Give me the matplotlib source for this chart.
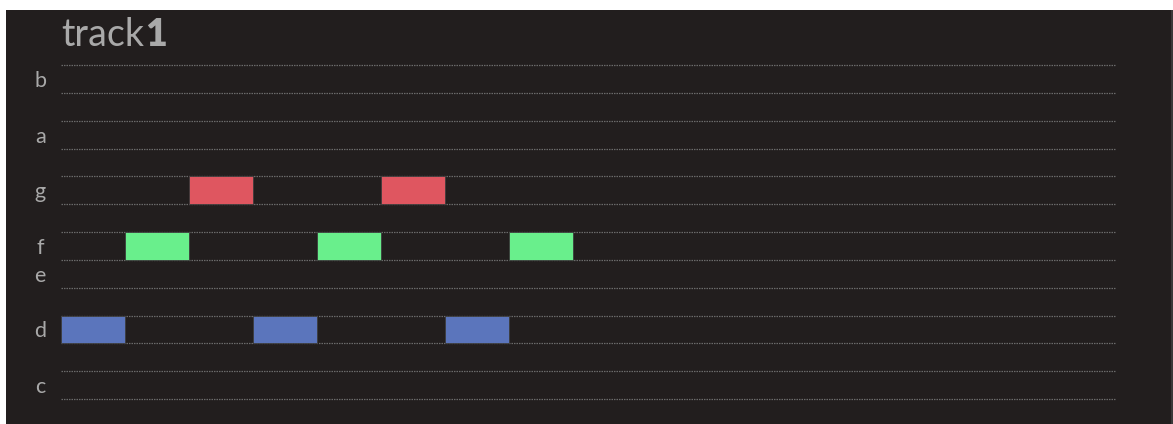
import matplotlib
matplotlib.use('Agg')
import matplotlib.pyplot as plt
import matplotlib.patches as mpatch

# piano-roll rows, bottom to top (one per semitone)
ROWS = ['c', 'c#', 'd', 'd#', 'e', 'f', 'f#', 'g', 'g#', 'a', 'a#', 'b']
LABELED = ['c', 'd', 'e', 'f', 'g', 'a', 'b']

# notes in the track: pitch, start step, length in steps
notes = ['d', 'f', 'g', 'd', 'f', 'g', 'd', 'f']
starts = [0, 1, 2, 3, 4, 5, 6, 7]
lengths = [1, 1, 1, 1, 1, 1, 1, 1]
n_steps = 16.48

title = 'track'
track_no = '1'

NOTE_COLORS = {'d': '#5b75bc', 'f': '#69ef8c', 'g': '#df5660'}
BG = '#221e1e'
TEXT = '#a9a9a9'
GRID = '#6a6a6a'
FONT = ['Lato', 'DejaVu Sans']

W, H = 1173, 424
fig = plt.figure(figsize=(W / 100, H / 100), dpi=100, facecolor='white')

# dark panel behind everything, leaves a thin white margin top/left
fig.patches.append(mpatch.Rectangle((6 / W, 0), (1171 - 6) / W, (H - 10) / H,
                                    transform=fig.transFigure,
                                    facecolor=BG, edgecolor='none', zorder=-2))
fig.patches.append(mpatch.Rectangle((1171 / W, 0), 2 / W, (H - 10) / H,
                                    transform=fig.transFigure,
                                    facecolor='#3a3838', edgecolor='none', zorder=-2))

ax = fig.add_axes([61 / W, (H - 399) / H, 1055 / W, (399 - 65) / H])
ax.set_facecolor('none')
ax.set_xlim(0, n_steps)
ax.set_ylim(0, len(ROWS))
for side in ax.spines.values():
    side.set_visible(False)

# dotted lines around each natural-note row
edges = set()
for name in LABELED:
    i = ROWS.index(name)
    edges.add(i)
    edges.add(i + 1)
for y in sorted(edges):
    ax.axhline(y, color=GRID, lw=0.9, linestyle=(0, (1.2, 0.8)),
               zorder=1, clip_on=False)

for name, x0, length in zip(notes, starts, lengths):
    i = ROWS.index(name)
    ax.add_patch(mpatch.Rectangle((x0, i), length, 1,
                                  facecolor=NOTE_COLORS[name],
                                  edgecolor='#3c3c3c', lw=0.6, zorder=2))

ax.set_xticks([])
ax.set_yticks([ROWS.index(n) + 0.5 for n in LABELED])
ax.set_yticklabels(LABELED, ha='center', fontsize=15.5, color=TEXT, family=FONT)
ax.tick_params(axis='y', length=0, pad=15)

# title: "track" then a bold track number right after it
t = fig.text(61 / W, 1 - 46 / H, title, fontsize=27, color=TEXT,
             family=FONT, va='baseline', ha='left')
fig.canvas.draw()
bb = t.get_window_extent()
fig.text((bb.x1 + 1) / W, 1 - 46 / H, track_no, fontsize=27, color=TEXT,
         family=FONT, weight='heavy', va='baseline', ha='left')

fig.savefig('out.png', dpi=100, facecolor='white')
